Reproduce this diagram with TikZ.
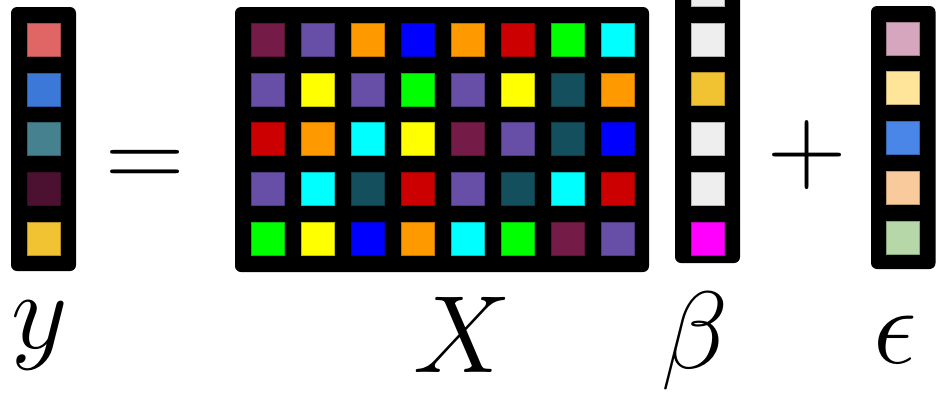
\documentclass[tikz,border=0pt]{standalone}
\usepackage{xcolor}
\usetikzlibrary{positioning}

\definecolor{ysalmon}{HTML}{E06666}
\definecolor{yblue}{HTML}{3C78D8}
\definecolor{yteal}{HTML}{45818E}
\definecolor{ywine}{HTML}{4C1130}
\definecolor{ygold}{HTML}{F1C232}
\definecolor{xplum}{HTML}{741B47}
\definecolor{xpurple}{HTML}{674EA7}
\definecolor{xorange}{HTML}{FF9900}
\definecolor{xblue}{HTML}{0000FF}
\definecolor{xred}{HTML}{CC0000}
\definecolor{xgreen}{HTML}{00FF00}
\definecolor{xcyan}{HTML}{00FFFF}
\definecolor{xyellow}{HTML}{FFFF00}
\definecolor{xteal}{HTML}{134F5C}
\definecolor{bgrey}{HTML}{EEEEEE}
\definecolor{bgold}{HTML}{F1C232}
\definecolor{bmagenta}{HTML}{FF00FF}
\definecolor{epink}{HTML}{D5A6BD}
\definecolor{ecream}{HTML}{FFE599}
\definecolor{eblue}{HTML}{4A86E8}
\definecolor{epeach}{HTML}{F9CB9C}
\definecolor{esage}{HTML}{B6D7A8}

\tikzset{
  vecframe/.style={fill=black,rounded corners=3pt},
  cellbox/.style={fill=#1,draw=#1!75!black,line width=0.3pt},
  mathlabel/.style={anchor=base,inner sep=0pt,font=\Huge,scale=2.21},
}

\begin{document}
\begin{tikzpicture}[x=0.5pt,y=-0.5pt]
\useasboundingbox (0,0) rectangle (936,392);
\clip (0,0) rectangle (936,392);
% response vector
\fill[vecframe] (11,7) rectangle (76,271);
\foreach \c [count=\i from 0] in {ysalmon,yblue,yteal,ywine,ygold}
  \path[cellbox=\c] (27,23+49.8*\i) rectangle ++(33,33);
\node[mathlabel] (eqsign) at (145,189) {$=$};
% design matrix
\fill[vecframe] (235,7) rectangle (649,272);
\foreach \row [count=\i from 0] in {
  {xplum,xpurple,xorange,xblue,xorange,xred,xgreen,xcyan},
  {xpurple,xyellow,xpurple,xgreen,xpurple,xyellow,xteal,xorange},
  {xred,xorange,xcyan,xyellow,xplum,xpurple,xteal,xblue},
  {xpurple,xcyan,xteal,xred,xpurple,xteal,xcyan,xred},
  {xgreen,xyellow,xblue,xorange,xcyan,xgreen,xplum,xpurple}}
  \foreach \c [count=\j from 0] in \row
    \path[cellbox=\c] (251+50.1*\j,23+49.8*\i) rectangle ++(33,33);
% coefficients
\fill[vecframe] (675,-50) rectangle (740,263);
\foreach \c [count=\i from 0] in {bgrey,bgrey,bgold,bgrey,bgrey,bmagenta}
  \path[cellbox=\c] (691,-27+49.8*\i) rectangle ++(33,33);
\node[mathlabel] (plussign) at (807,182) {$+$};
% noise
\fill[vecframe] (871,6) rectangle (935.5,269);
\foreach \c [count=\i from 0] in {epink,ecream,eblue,epeach,esage}
  \path[cellbox=\c] (886,22+49.75*\i) rectangle ++(33,33);
% labels
\node[mathlabel] (ylabel) at (40,348) {$y$};
\node[mathlabel] (Xlabel) at (462,372) {$X$};
\node[mathlabel] (betalabel) at (695,368) {$\beta$};
\node[mathlabel] (epslabel) at (895,363) {$\epsilon$};
\end{tikzpicture}
\end{document}
